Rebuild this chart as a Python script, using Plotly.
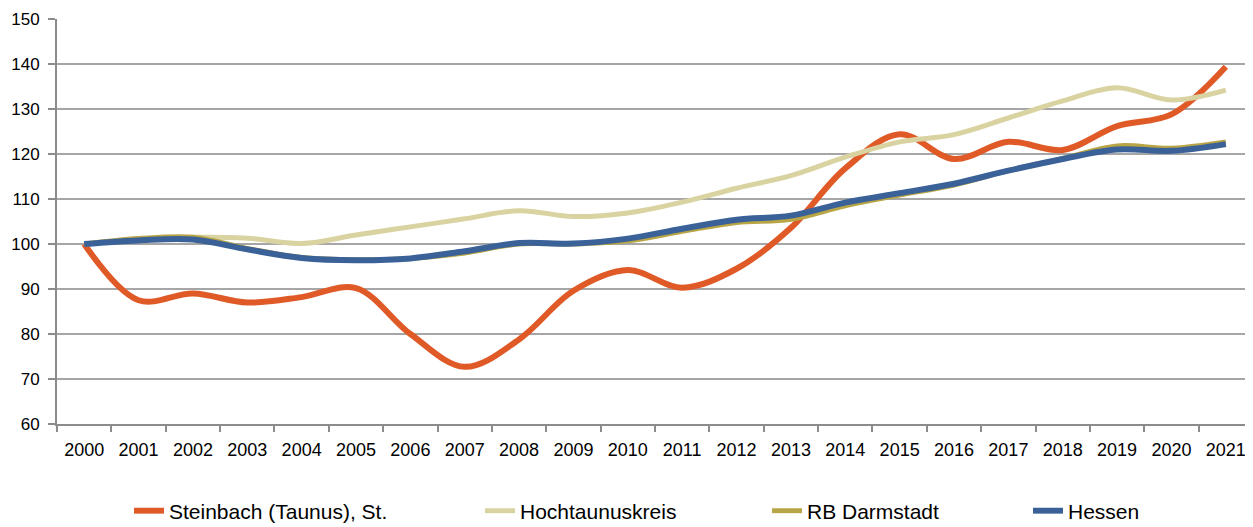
import plotly.graph_objects as go

years = [str(y) for y in range(2000, 2022)]

steinbach = [100, 87.5, 89.0, 87.0, 88.2, 90.2, 80.0, 72.7, 78.8, 89.6, 94.2, 90.3, 94.5, 103.6, 116.8, 124.4, 118.9, 122.7, 120.9, 126.2, 128.8, 139.4]
hochtaunus = [100, 101.0, 101.5, 101.3, 100.1, 102.0, 103.8, 105.6, 107.4, 106.1, 106.9, 109.3, 112.4, 115.2, 119.3, 122.7, 124.3, 128.0, 131.8, 134.7, 132.0, 134.2]
rb_darmstadt = [100, 101.2, 101.5, 99.0, 97.0, 96.5, 96.8, 98.0, 100.0, 100.0, 100.7, 102.8, 104.8, 105.5, 108.5, 110.9, 113.1, 116.3, 119.0, 121.8, 121.3, 122.7]
hessen = [100, 100.8, 101.0, 98.8, 96.9, 96.4, 96.8, 98.4, 100.2, 100.1, 101.2, 103.4, 105.4, 106.3, 109.2, 111.3, 113.4, 116.3, 118.9, 121.0, 120.7, 122.2]

names = ["Steinbach (Taunus), St.", "Hochtaunuskreis", "RB Darmstadt", "Hessen"]
colors = ["#E05A28", "#D9D3A1", "#B8A545", "#3A6198"]
widths = [6, 5, 5, 6]
series = [steinbach, hochtaunus, rb_darmstadt, hessen]
legend_ids = ["legend", "legend2", "legend3", "legend4"]
legend_text_px = [169, 520, 807, 1068]

FONT = "Liberation Sans, Arial, sans-serif"
FS = 18
YFS = 17
LFS = 21
OFF = 8  # page body margin
L, R, T = 57 - OFF, 0, 19 - OFF
W, H = 1253 - OFF, 527 - OFF
PH = 405
B = H - T - PH
pw = W - L - R
plot_left = L + OFF
plot_bottom = T + OFF + PH

fig = go.Figure()
for name, vals, col, w, lid in zip(names, series, colors, widths, legend_ids):
    fig.add_trace(go.Scatter(
        x=years, y=vals, name=name, mode="lines",
        line=dict(color=col, width=w, shape="spline", smoothing=1.0),
        legend=lid,
    ))

layout_legends = {}
for lid, tx in zip(legend_ids, legend_text_px):
    layout_legends[lid] = dict(
        x=(tx - 40 - plot_left) / pw, xanchor="left",
        y=(plot_bottom - 511) / PH, yanchor="middle",
        orientation="h", bgcolor="rgba(0,0,0,0)",
        font=dict(family=FONT, size=LFS, color="#000000"),
        itemwidth=30,
    )

fig.update_layout(
    width=W, height=H,
    margin=dict(l=L, r=R, t=T, b=B, pad=0, autoexpand=False),
    paper_bgcolor="white", plot_bgcolor="white",
    font=dict(family=FONT, size=FS, color="#000000"),
    showlegend=True,
    **layout_legends,
)

fig.update_xaxes(
    type="category", tickson="boundaries", tickangle=0, automargin=False,
    ticks="outside", ticklen=6, tickcolor="#8C8C8C", tickwidth=2,
    ticklabelstandoff=8,
    showline=True, linecolor="#8C8C8C", linewidth=2,
    showgrid=False, tickfont=dict(family=FONT, size=FS, color="#000000"),
    range=[-0.5, 21.5], fixedrange=True,
)
fig.update_yaxes(
    range=[60, 150], dtick=10, tick0=60, automargin=False,
    ticks="outside", ticklen=7, tickcolor="#8C8C8C", tickwidth=2,
    ticklabelstandoff=5,
    showline=True, linecolor="#8C8C8C", linewidth=2,
    showgrid=True, gridcolor="#A6A6A6", gridwidth=1.5,
    zeroline=False,
    tickfont=dict(family=FONT, size=YFS, color="#000000"),
)

fig.write_html("out.html")
